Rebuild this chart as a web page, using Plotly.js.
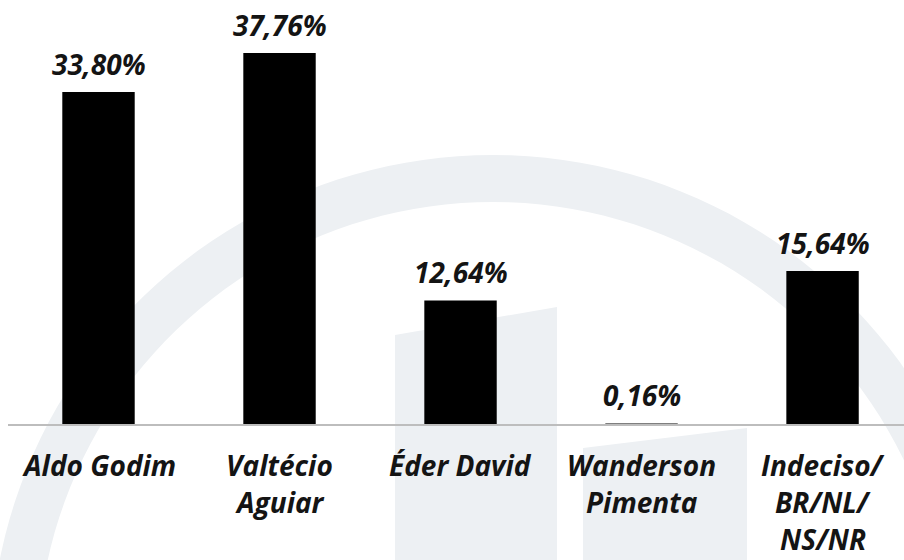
<!DOCTYPE html>
<html>
<head>
<meta charset="utf-8">
<script src="https://cdn.plot.ly/plotly-3.0.1.min.js"></script>
<style>html,body{margin:0;padding:0;background:#fff;}#chart{width:904px;height:560px;}</style>
</head>
<body>
<div id="chart"></div>
<script>
const categories = ["Aldo Godim", "Valtécio Aguiar", "Éder David", "Wanderson Pimenta", "Indeciso/BR/NL/NS/NR"];
const tickLines = [["Aldo Godim"], ["Valtécio", "Aguiar"], ["Éder David"], ["Wanderson", "Pimenta"], ["Indeciso/", "BR/NL/", "NS/NR"]];
const values = [33.80, 37.76, 12.64, 0.16, 15.64];
const valueLabels = ["33,80%", "37,76%", "12,64%", "0,16%", "15,64%"];

const FONT = "'Open Sans', 'DejaVu Sans', sans-serif";
const WM = "#edf0f3";
const TXT = "#141414";

const trace = {
  type: "bar",
  x: categories,
  y: values,
  marker: {color: "#000000", line: {width: 0}},
  hoverinfo: "skip"
};

const annotations = categories.map((c, i) => ({
  x: c, y: values[i], xref: "x", yref: "y",
  text: "<b><i>" + valueLabels[i] + "</i></b>",
  showarrow: false, yanchor: "bottom", yshift: 7,
  font: {family: FONT, size: 28, color: TXT}
}));
// category labels, one annotation per line for wider line spacing
tickLines.forEach((lines, i) => {
  lines.forEach((t, k) => {
    annotations.push({
      x: categories[i], y: 0, xref: "x", yref: "y",
      text: "<b><i>" + t + "</i></b>",
      showarrow: false, yanchor: "middle", yshift: -(40 + 37*k),
      font: {family: FONT, size: 28, color: TXT}
    });
  });
});

// decorative watermark in plot-area paper coords (plot area: x 8..904, y 0..425)
function px(x){return (x-8)/896;}
function py(y){return 1 - y/425;}
const cx = 493, cy = 658, R = 503, r = 456;
function ringPath(){
  let p = "";
  const n = 90;
  for (let k = 0; k <= n; k++) {
    const a = Math.PI * k / n;
    const x = cx - R*Math.cos(a), y = cy - R*Math.sin(a);
    p += (k===0 ? "M" : "L") + px(x).toFixed(4) + "," + py(y).toFixed(4);
  }
  for (let k = n; k >= 0; k--) {
    const a = Math.PI * k / n;
    const x = cx - r*Math.cos(a), y = cy - r*Math.sin(a);
    p += "L" + px(x).toFixed(4) + "," + py(y).toFixed(4);
  }
  return p + "Z";
}
const shapes = [
  {type: "path", xref: "paper", yref: "paper", path: ringPath(), fillcolor: WM, line: {width: 0}, layer: "below"},
  {type: "path", xref: "paper", yref: "paper",
   path: `M${px(395)},${py(335)}L${px(557)},${py(307)}L${px(557)},${py(600)}L${px(395)},${py(600)}Z`,
   fillcolor: WM, line: {width: 0}, layer: "below"},
  {type: "path", xref: "paper", yref: "paper",
   path: `M${px(583)},${py(448)}L${px(747)},${py(428)}L${px(747)},${py(600)}L${px(583)},${py(600)}Z`,
   fillcolor: WM, line: {width: 0}, layer: "below"},
  {type: "line", xref: "paper", yref: "paper", x0: 0, x1: 1, y0: 0, y1: 0,
   line: {color: "#bdbdbd", width: 2}, layer: "above"}
];

const layout = {
  width: 904, height: 560,
  margin: {l: 8, r: 0, t: 0, b: 135},
  paper_bgcolor: "#ffffff",
  plot_bgcolor: "rgba(0,0,0,0)",
  showlegend: false,
  bargap: 0.6,
  xaxis: {
    type: "category",
    range: [-0.5, 4.45],
    showticklabels: false,
    showgrid: false, zeroline: false, showline: false, ticks: "",
    fixedrange: true
  },
  yaxis: {
    range: [0, 43.14], visible: false, showgrid: false, zeroline: false, fixedrange: true
  },
  annotations: annotations,
  shapes: shapes
};

Plotly.newPlot("chart", [trace], layout, {displayModeBar: false, staticPlot: true});
</script>
</body>
</html>
